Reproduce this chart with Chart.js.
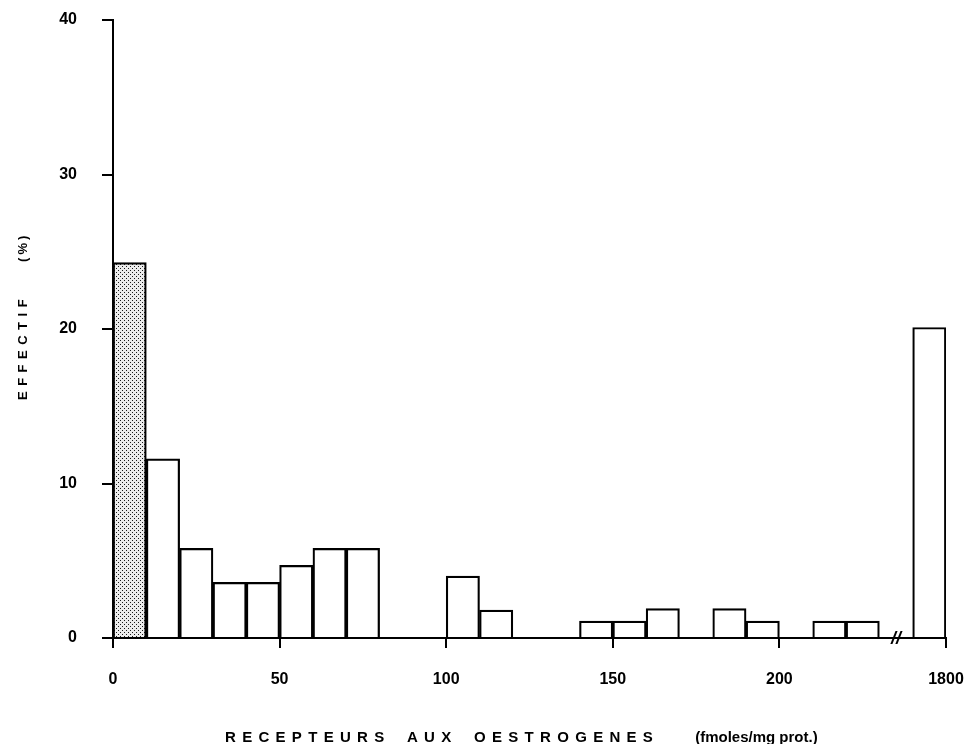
<!DOCTYPE html>
<html>
<head>
<meta charset="utf-8">
<script src="https://cdn.jsdelivr.net/npm/chart.js@4/dist/chart.umd.min.js"></script>
<style>
html, body { margin: 0; padding: 0; background: #fff; }
</style>
</head>
<body>
<canvas id="histo" width="967" height="744"></canvas>
<script>
// classes de 10 fmoles/mg prot., de 0 a 230
var binStarts = [0, 10, 20, 30, 40, 50, 60, 70, 80, 90, 100, 110, 120, 130, 140, 150, 160, 170, 180, 190, 200, 210, 220];
var effectif = [24.3, 11.6, 5.8, 3.6, 3.6, 4.7, 5.8, 5.8, 0, 0, 4.0, 1.8, 0, 0, 1.1, 1.1, 1.9, 0, 1.9, 1.1, 0, 1.1, 1.1];
var binWidth = 10;

// barre isolee apres la coupure de l'axe
var highLabel = '1800';
var highValue = 20.1;
var highSlot = 240;   // debut de la classe sur l'axe coupe
var breakSlot = 235;  // position du signe //

var xTickValues = [0, 50, 100, 150, 200, 250];
var xTickLabels = ['0', '50', '100', '150', '200', highLabel];
var yMax = 40, yStep = 10;

var xTitle = 'RECEPTEURS AUX OESTROGENES';
var xUnit = '(fmoles/mg prot.)';
var yTitle = 'EFFECTIF';
var yUnit = '(%)';

var canvas = document.getElementById('histo');
var ctx = canvas.getContext('2d');

function stipple() {
    var c = document.createElement('canvas');
    c.width = 4; c.height = 4;
    var g = c.getContext('2d');
    g.fillStyle = '#ececec';
    g.fillRect(0, 0, 4, 4);
    g.fillStyle = '#1a1a1a';
    g.fillRect(0, 0, 1, 1);
    g.fillRect(2, 2, 1, 1);
    return ctx.createPattern(c, 'repeat');
}

var points = binStarts.map(function (s, i) {
    return { x: s + binWidth / 2, y: effectif[i] ? effectif[i] : null };
});
points.push({ x: highSlot + binWidth / 2, y: highValue });

var fills = points.map(function (p, i) { return i === 0 ? stipple() : '#ffffff'; });

// texte espace lettre par lettre
function spacedText(g, text, x, y, spacing, wordGap) {
    for (var i = 0; i < text.length; i++) {
        if (text[i] === ' ') { x += wordGap || 0; }
        g.fillText(text[i], x, y);
        x += g.measureText(text[i]).width + spacing;
    }
    return x;
}

var decor = {
    id: 'decor',
    afterDraw: function (chart) {
        var g = chart.ctx;
        var xs = chart.scales.x, ys = chart.scales.y;
        g.save();
        g.fillStyle = '#000';
        // coupure de l'axe
        g.font = 'italic bold 18px "Liberation Sans"';
        g.textAlign = 'center';
        g.textBaseline = 'middle';
        g.fillText('//', xs.getPixelForValue(breakSlot), ys.getPixelForValue(0) + 1);

        // titre axe x
        g.textAlign = 'left';
        g.textBaseline = 'alphabetic';
        g.font = 'bold 15px "Liberation Sans"';
        var e = spacedText(g, xTitle, 225, 742, 6.3, 6);
        g.font = 'bold 15px "Liberation Sans Narrow", "Liberation Sans"';
        g.fillText(xUnit, e + 36, 742);

        // titre axe y
        g.translate(27, 400);
        g.rotate(-Math.PI / 2);
        g.font = 'bold 13px "Liberation Sans"';
        var f = spacedText(g, yTitle, 0, 0, 5.5, 0);
        spacedText(g, yUnit, f + 32, 0, 3, 0);
        g.restore();
    }
};

var tickFont = { family: 'Liberation Sans', weight: 'bold', size: 16 };

new Chart(canvas, {
    type: 'bar',
    data: {
        datasets: [{
            data: points,
            backgroundColor: fills,
            borderColor: '#000',
            borderWidth: 2.2,
            borderSkipped: 'start',
            barPercentage: 1,
            categoryPercentage: 1
        }]
    },
    options: {
        responsive: false,
        animation: false,
        layout: { padding: { top: 20, right: 21, left: 0, bottom: 0 } },
        plugins: {
            legend: { display: false },
            tooltip: { enabled: false }
        },
        scales: {
            x: {
                type: 'linear',
                min: 0,
                max: highSlot + binWidth,
                offset: false,
                afterBuildTicks: function (s) {
                    s.ticks = xTickValues.map(function (v) { return { value: v }; });
                },
                afterFit: function (s) {
                    s.height = 106;
                    s.paddingLeft = 0;
                    s.paddingRight = 0;
                },
                ticks: {
                    autoSkip: false,
                    maxRotation: 0,
                    padding: 22,
                    color: '#000',
                    font: tickFont,
                    callback: function (v, i) { return xTickLabels[i]; }
                },
                grid: { offset: false, drawOnChartArea: false, drawTicks: true, tickLength: 10, color: '#000', lineWidth: 2 },
                border: { display: true, color: '#000', width: 2 }
            },
            y: {
                min: 0,
                max: yMax,
                afterFit: function (s) {
                    s.width = 113;
                    s.paddingTop = 0;
                    s.paddingBottom = 0;
                },
                ticks: {
                    stepSize: yStep,
                    padding: 25,
                    color: '#000',
                    font: tickFont
                },
                grid: { drawOnChartArea: false, drawTicks: true, tickLength: 11, color: '#000', lineWidth: 2 },
                border: { display: true, color: '#000', width: 2 }
            }
        }
    },
    plugins: [decor]
});
</script>
</body>
</html>
